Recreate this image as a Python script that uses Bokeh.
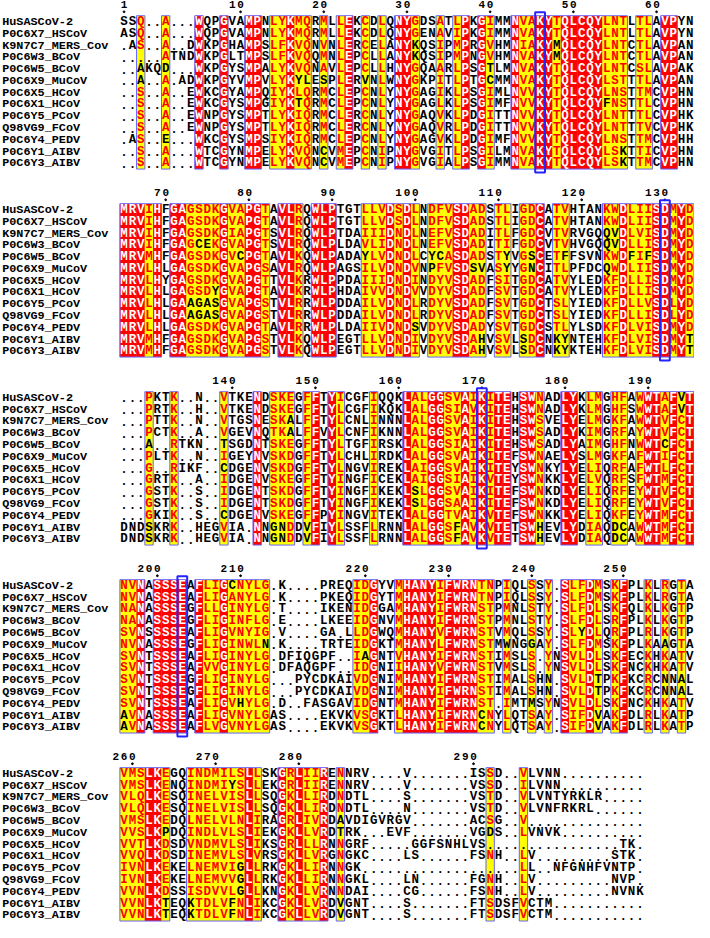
from bokeh.plotting import figure
from bokeh.models import Range1d, ColumnDataSource
from bokeh.core.properties import value
from bokeh.embed import file_html
from bokeh.resources import INLINE

NAMES = ["HuSASCoV-2", "P0C6X7_HSCoV", "K9N7C7_MERS_Cov", "P0C6W3_BCoV", "P0C6W5_BCoV",
         "P0C6X9_MuCoV", "P0C6X5_HCoV", "P0C6X1_HCoV", "P0C6Y5_PCoV", "Q98VG9_FCoV",
         "P0C6Y4_PEDV", "P0C6Y1_AIBV", "P0C6Y3_AIBV"]

SEQ_B1 = [
    "SSQ..A...WQPGVAMPNLYKMQRMLLEKCDLQNYGDSATLPKGIMMNVAKYTQLCQYLNTLTLAVPYN",
    "ASQ..A...WQPGVAMPNLYKMQRMLLEKCDLQNYGENAVIPKGIMMNVAKYTQLCQYLNTLTLAVPYN",
    ".AS..A..DWKPGHAMPSLFKVQNVNLERCELANYKQSIPMPRGVHMNIAKYMQLCQYLNTCTLAVPAN",
    ".....ATNDWKPGLTMPSLFKVQQMNLEPCLLANYKQSIPMPNGVHMNVAKYMQLCQYLNTCTLAVPAN",
    "..AKQD...WKPGYSMPALYKVQNAVLEPCLLHNYGQAARLPSGTLMNVAKYTQLCQYLNTCSLAVPAK",
    "..A..A.ADWKPGYVMPVLYKYLESPLERVNLWNYGKPITLPTGCMMNVAKYTQLCQYLSTTTLAVPAN",
    "..S..A..EWKCGYAMPQIYKLQRMCLEPCNLYNYGAGIKLPSGIMLNVVKYTQLCQYLNSTTMCVPHN",
    "..S..A..EWKCGYSMPGIYKTQRMCLEPCNLYNYGAGLKLPSGIMFNVVKYTQLCQYFNSTTLCVPHN",
    "..S..A..EWNPGYSMPTLYKIQRMCLERCNLYNYGAQVKLPDGITTNVVKYTQLCQYLNTTTLCVPHK",
    "..S..A..EWNPGYSMPTLYKIQRMCLERCNLYNYGAQVRLPDGITTNVVKYTQLCQYLNTTTVCVPHK",
    ".AS..E...WKCGYSMPSIYKIQRMCLEPCNLYNYGAGVKLPDGIMFNVVKYTQLCQYLNSTTMCVPHH",
    "..S..A...WTCGYNMPELYKVQNCVMEPCNIPNYGVGITLPSGILMNVAKYTQLCQYLSKTTICVPHN",
    "..S..A...WTCGYNMPELYKVQNCVMEPCNIPNYGVGIALPSGIMMNVAKYTQLCQYLSKTTMCVPHN",
]
SEQ_B2 = [
    "MRVIHFGAGSDKGVAPGTAVLRQWLPTGTLLVDSDLNDFVSDADSTLIGDCATVHTANKWDLIISDMYD",
    "MRVIHFGAGSDKGVAPGTAVLRQWLPTGTLLVDSDLNDFVSDADSTLIGDCATVHTANKWDLIISDMYD",
    "MRVIHFGAGSDKGIAPGTSVLRQWLPTDAIIIDNDLNEFVSDADITLFGDCVTVRVGQQVDLVISDMYD",
    "MRVIHFGAGCEKGVAPGTSVLRQWLPLDAVLIDNDLNEFVSDADITIFGDCVTVHVGQQVDLLISDMYD",
    "MRVMHFGAGSDKGVCPGTAVLKQWLPADAYLVDNDLCYCASDADSTYVGSCETFFSVNKWDFIFSDMYD",
    "MRVLHLGAGSDKGVAPGSAVLRQWLPAGSILVDNDVNPFVSDSVASYYGNCITLPFDCQWDLIISDMYD",
    "MRVLHYGAGSDKGVAPGTTVLKRWLPPDAIIIDNDINDYVSDADFSITGDCATVYLEDKFDLLISDMYD",
    "MRVLHLGAGSDYGVAPGTAVLKRWLPHDAIVVDNDVVDYVSDADFSVTGDCATVYLEDKFDLLISDMYD",
    "MRVLHLGAAGASGVAPGSTVLRRWLPDDAILVDNDLRDYVSDADFSVTGDCTSLYIEDKFDLLVSDLYD",
    "MRVLHLGAAGASGVAPGSTVLRRWLPDDAILVDNDLRDYVSDADFSVTGDCTSLYIEDKFDLLISDLYD",
    "MRVLHLGAGSDKGVAPGTAVLRRWLPLDAIIVDNDSVDYVSDADYSVTGDCSTLYLSDKFDLVISDMYD",
    "MRVMHFGAGSDKGVAPGSTVLKQWLPEGTLLVDNDIVDYVSDAHVSVLSDCNKYNTEHKFDLVISDMYT",
    "MRVMHFGAGSDKGVAPGSTVLKQWLPEGTLLVDNDIVDYVSDAHVSVLSDCNKYKTEHKFDLVISDMYT",
]
SEQ_B3 = [
    "...PKTK..N..VTKENDSKEGFFTYICGFIQQKLALGGSVAIKITEHSWNADLYKLMGHFAWWTAFVT",
    "...PRTK..H..VTKENDSKEGFFTYLCGFIKQKLALGGSIAVKITEHSWNADLYKLMGHFSWWTAFVT",
    "...PTTK..N..VTGSNESKALFFTYLCNLINNNLALGGSVAIKITEHSWSVELYELMGKFAWWTVFCT",
    "...PCTK..A..VGEVNQTKALFFVYLCNFIKNNLALGGSVAIKITEHSWSADLYKIMGRFAYWTVFCT",
    "...A..RTKN..TSGDNTSKEGFFTYLTGFIRSKLALGGSIAIKITEHSWSADLYAIMGHFNWWTCFCT",
    "...PLTK..N..IGEYNVSKDGFFTYLCHLIRDKLALGGSVAIKITEFSWNAELYSLMGKFAFWTIFCT",
    "...G..RIKF..CDGENVSKDGFFTYLNGVIREKLAIGGSVAIKITEYSWNKYLYELIQRFAFWTLFCT",
    "...GRTK..A..IDGENVSKEGFFTYINGFICEKLAIGGSIAIKVTEYSWNKKLYELVQRFSFWTMFCT",
    "...GSTK..S..IDGENTSKDGFFTYINGFIKEKLSLGGSVAIKITEFSWNKDLYELIQRFEYWTVFCT",
    "...GSTK..S..IDGENTSKDGFFTYINGFIKEKLSLGGSAAIKITEFSWNKDLYELIQRFEYWTVFCT",
    "...GKIK..S..CDGENVSKEGFFPYINGVITEKLALGGTVAIKVTEFSWNKKLYELIQKFEYWTMFCT",
    "DNDSKRK..HEGVIA.NNGNDDVFIYLSSFLRNNLALGGSFAVKVTETSWHEVLYDIAQDCAWWTMFCT",
    "DNDSKRK..HEGVIA.NNGNDDVFIYLSSFLRNNLALGGSFAVKVTETSWHEVLYDIAQDCAWWTMFCT",
]
SEQ_B4 = [
    "NVNASSSEAFLIGCNYLG.K....PREQIDGYVMHANYIFWRNTNPIQLSSY.SLFDMSKFPLKLRGTA",
    "NVNASSSEAFLIGANYLG.K....PKEQIDGYTMHANYIFWRNTNPIQLSSY.SLFDMSKFPLKLRGTA",
    "NANASSSEGFLLGINYLG.T....IKENIDGGAMHANYIFWRNSTPMNLSTY.SLFDLSKFQLKLKGTP",
    "NANASSSEGFLIGINFLG.E....LKEEIDGNVMHANYIFWRNSTPMNLSTY.SLFDLSRFPLKLKGTP",
    "SVNSSSSEAFLIGVNYIG.V....GA.LLDGWQMHANYVFWRNSTVMQLSSY.SLYDLQRFPLRLKGTP",
    "NVNASSSEGFLIGINWLN.K....TRTEIDGKTMHANYLFWRNSTMWNGGAY.SLFDMSKFPLKAAGTA",
    "SVNTSSSEAFLIGINYLG.DFIQGPF..IAGNTVHANYIFWRNSTIMSLS.YNSVLDLSKFECKHKATV",
    "SVNTSSSEAFVVGINYLG.DFAQGPF..IDGNIIHANYVFWRNSTVMSLS.YNSVLDLSKFNCKHKATV",
    "SVNTSSSEGFLIGINYLG...PYCDKAIVDGNIMHANYIFWRNSTIMALSHN.SVLDTPKFKCRCNNAL",
    "SVNTSSSEGFLIGINYLG...PYCDKAIVDGNIMHANYIFWRNSTIMALSHN.SVLDTPKFKCRCNNAL",
    "SVNTSSSEAFLIGVHYLG.D..FASGAVIDGNTMHANYIFWRNST.IMTMSYNSVLDLSKFNCKHKATV",
    "AVNASSSEAFLIGVNYLGAS....EKVKVSGKTLHANYIFWRNCNYLQTSAY.SIFDVAKFDLRLKATP",
    "AVNASSSEAFLVGVNYLGAS....EKVKVSGKTLHANYIFWRNCNYLQTSAY.SIFDVAKFDLRLKATP",
]
SEQ_B5 = [
    "VMSLKEGQINDMILSLLSKGRLIIRENN" "RV" "...." "V" "......." "ISSD" ".." "VLVNN" "..........",
    "VMSLKENQINDMIYSLLEKGRLIIRENN" "RV" "...." "V" "......." "VSSD" ".." "ILVNN" "..........",
    "VLQLKESQINELVISLLSQGKLLIRDND" "TL" "...." "S" "......." "VSTD" ".." "VLVNTYRKLR" ".....",
    "VLQLKESQINELVISLLSQGKLLIRDND" "TL" "...." "N" "......." "VSTD" ".." "VLVNFRKRL" "......",
    "VMSLKEDQLNELVLNLIRAGRLIVRDAV" "DIGVRGV" "......." "ACSG" ".." "V" "..............",
    "VVSLKPDQINDLVLSLIEKGKLLVRDTR" "K" "..." "EVF" "......." "VGDS" ".." "LVNVK" "..........",
    "VVTLKDSDVNDMVLSLIKSGRLLLRNNG" "RF" "....." "GGFSNHLVS" "................" "TK.",
    "VVQLKDSDINEMVLSLVRSGKLLVRGNG" "KC" "...." "LS" "......" "FSNH" ".." "LV" "........." "STK" ".",
    "IVNLKEKELNEMVIGLLRKGKLLIRNNG" "K" "..................." "LL" ".." "NFGNHFVNTP" ".",
    "IVNLKEKELNEMVVGLLRKGKLLIRNNG" "KL" "...." "LN" "......" "FGNH" ".." "LV" "........." "NVP" ".",
    "VVNLKDSSISDVVLGLLKNGKLLVRNND" "AI" "...." "CG" "......" "FSNH" ".." "LV" "........." "NVNK",
    "VVNLKTEQKTDLVFNLIKCGKLLVRDVG" "NT" "...." "S" "......." "FTSDSFVCTM" "...........",
    "VVNLKTEQKTDLVFNLIKCGKLLVRDVG" "NT" "...." "S" "......." "FTSDSFVCTM" "...........",
]

# column classes: r = strictly identical (red), y = similar (yellow), . = none
CLS_B1 = "..y..y...r" "..r..rr.yy" "ryy.y.yr.y" ".y.rry..y." "yr.ry..ryy" "rryrrrrryy" "y.yy.rr.."
CLS_B2 = "rrryr.rryy" "yyryyrry.r" "ry.rrr...y" "yyryry.yyy" "rryy.yy.yy" "r.yy....yy" "ryyyrryry"
CLS_B3 = "...y..y..." "..y...r.yy" "y.yr.ry..." "y...ryyrry" "yryryrr.rr" "y..rr.yy.y" "y.yrryryr"
CLS_B4 = "yyr.rrrr.r" "yyryyyyy.." "........yy" "r..yrrrryr" "rrryy.y..y" ".y.ryyry.y" "r..y.y.y."
CLS_B5 = "yyyrry..yy" "yyyyyry..r" "yryyr.y..." ".........." "....y...y." ".........." "..."

# residues printed in black inside similar columns: {column: [rows]}
BLACK_B1 = {2: [4, 5], 5: [4, 10], 21: [5, 7], 22: [5], 24: [5, 11, 12], 29: [5],
            35: [2, 3], 44: [4, 5], 52: [2, 3], 58: [7], 60: [11, 12]}
BLACK_B2 = {8: [8, 9], 9: [3, 8, 9], 10: [3, 8, 9], 11: [7, 8, 9], 14: [4], 29: [4],
            35: [10], 37: [4, 5], 38: [4], 42: [5], 43: [5, 11, 12], 46: [4, 5],
            48: [11, 12], 49: [4, 5], 52: [11, 12], 53: [4, 11, 12], 58: [2, 3, 5],
            59: [2, 3], 61: [4], 63: [4], 68: [11, 12]}
BLACK_B3 = {3: [4, 11, 12], 12: [4, 6, 10], 18: [11, 12], 19: [11, 12], 20: [2, 3],
            22: [11, 12], 35: [8, 9], 40: [11, 12], 50: [11, 12], 59: [11, 12],
            60: [11, 12], 65: [4], 67: [0, 1]}
BLACK_B4 = {0: [11, 12], 13: [0], 14: [10], 17: [5], 29: [6], 43: [11, 12], 46: [5],
            49: [5, 10], 51: [8, 9], 55: [4], 57: [8, 9, 11, 12], 65: [5, 8, 9], 67: [8, 9]}
BLACK_B5 = {5: [5, 11, 12], 8: [11, 12], 13: [1, 11, 12], 14: [8, 9, 10],
            26: [4, 5, 11, 12], 44: [5]}

FIRST_RES = [1, 65, 134, 196, 259]
CATALYTIC = [46, 130, 170, 203]

BLOCKS = [(SEQ_B1, CLS_B1, BLACK_B1), (SEQ_B2, CLS_B2, BLACK_B2), (SEQ_B3, CLS_B3, BLACK_B3),
          (SEQ_B4, CLS_B4, BLACK_B4), (SEQ_B5, CLS_B5, BLACK_B5)]

# layout (reference pixel units)
W = 8.5
X0 = 122.0
ROW = 12.0
NROW = 13
BLOCK_TOP = 21.5
BLOCK_STEP = 191.25

RED = "#ff0000"
YEL = "#ffff00"
FRAME = "#6464ff"
TETRAD = "#2424ff"
FONT = value("Liberation Mono")

p = figure(width=694, height=922, x_range=Range1d(0, 709), y_range=Range1d(938, 0),
           output_backend="svg", toolbar_location=None,
           x_axis_location=None, y_axis_location=None, min_border=0)
p.grid.visible = False
p.outline_line_color = None
p.background_fill_color = "white"
p.border_fill_color = "white"

bg = dict(x=[], y=[], w=[], h=[], c=[])
fr = dict(x=[], y=[], w=[], h=[])
tx = dict(x=[], y=[], t=[], c=[])
nm = dict(x=[], y=[], t=[])
lab = dict(x=[], y=[], t=[])
dots = dict(x=[], y=[])
tet = dict(x=[], y=[], w=[], h=[])

for b, (seqs, cls, black) in enumerate(BLOCKS):
    y0 = BLOCK_TOP + BLOCK_STEP * b
    ncol = len(cls)
    for s in seqs:
        assert len(s) == ncol, (b, s, len(s), ncol)
    ymid = y0 + ROW * (NROW - 1) / 2.0
    hgt = ROW * NROW
    for k, c in enumerate(cls):
        xc = X0 + W * (k + 0.5)
        if c in "ry":
            bg["x"].append(xc); bg["y"].append(ymid)
            bg["w"].append(W + 0.35); bg["h"].append(hgt)
            bg["c"].append(RED if c == "r" else YEL)
    k = 0
    while k < ncol:
        if cls[k] != ".":
            j = k
            while j + 1 < ncol and cls[j + 1] != ".":
                j += 1
            fr["x"].append(X0 + W * (k + j + 1) / 2.0)
            fr["y"].append(ymid)
            fr["w"].append(W * (j - k + 1))
            fr["h"].append(hgt)
            k = j + 1
        else:
            k += 1
    for r, s in enumerate(seqs):
        y = y0 + ROW * r
        for k, ch in enumerate(s):
            c = cls[k]
            if ch == ".":
                col = "black"
            elif c == "r":
                col = "white"
            elif c == "y":
                col = "black" if r in black.get(k, []) else RED
            else:
                col = "black"
            tx["x"].append(X0 + W * (k + 0.5)); tx["y"].append(y + 0.3)
            tx["t"].append(ch); tx["c"].append(col)
        nm["x"].append(1.7); nm["y"].append(y + 0.3); nm["t"].append(NAMES[r])
    num = FIRST_RES[b]
    for k, ch in enumerate(seqs[0]):
        if ch == ".":
            continue
        if num == 1 or num % 10 == 0:
            label = str(num)
            for i, d in enumerate(label):
                kk = k - (len(label) - 1) + i
                lab["x"].append(X0 + W * (kk + 0.5)); lab["y"].append(y0 - 17.5)
                lab["t"].append(d)
            dots["x"].append(X0 + W * (k + 0.5)); dots["y"].append(y0 - 10.0)
        if num in CATALYTIC:
            tet["x"].append(X0 + W * (k + 0.5)); tet["y"].append(ymid)
            tet["w"].append(W + 1.5); tet["h"].append(hgt + 7)
        num += 1

p.rect(x="x", y="y", width="w", height="h", fill_color="c", line_color=None,
       source=ColumnDataSource(bg))
p.rect(x="x", y="y", width="w", height="h", fill_color=None, line_color=FRAME,
       line_width=1, source=ColumnDataSource(fr))
p.text(x="x", y="y", text="t", text_color="c", source=ColumnDataSource(tx),
       text_font=FONT, text_font_style="bold", text_font_size="12.5px",
       text_align="center", text_baseline="middle")
p.text(x="x", y="y", text="t", source=ColumnDataSource(nm), text_color="black",
       text_font=FONT, text_font_style="bold", text_font_size="11.8px",
       text_align="left", text_baseline="middle")
p.text(x="x", y="y", text="t", source=ColumnDataSource(lab), text_color="black",
       text_font=FONT, text_font_style="bold", text_font_size="11px",
       text_align="center", text_baseline="middle")
p.scatter(x="x", y="y", source=ColumnDataSource(dots), size=1.8, color="black")
p.rect(x="x", y="y", width="w", height="h", fill_color=None, line_color=TETRAD,
       line_width=2, source=ColumnDataSource(tet))

open("out.html", "w").write(file_html(p, INLINE))
